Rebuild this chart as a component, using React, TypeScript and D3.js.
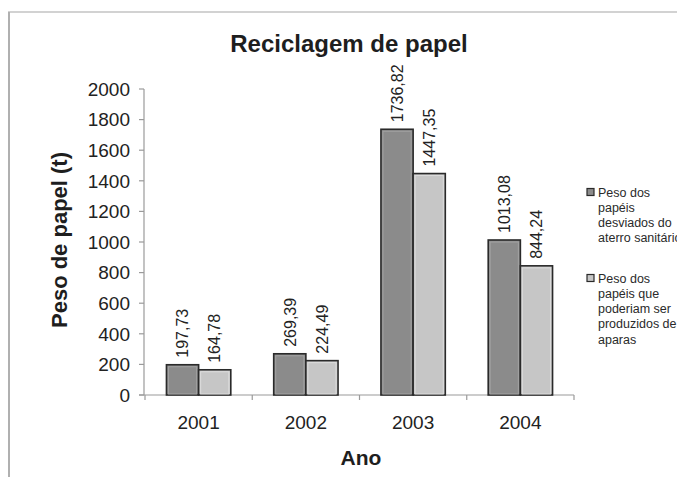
import React from "react";
import * as d3 from "d3";

const years = ["2001", "2002", "2003", "2004"];
const desviados = [197.73, 269.39, 1736.82, 1013.08];
const produzidos = [164.78, 224.49, 1447.35, 844.24];
const yTicks = [0, 200, 400, 600, 800, 1000, 1200, 1400, 1600, 1800, 2000];
const legend1 = ["Peso dos", "papéis", "desviados do", "aterro sanitário"];
const legend2 = ["Peso dos", "papéis que", "poderiam ser", "produzidos de", "aparas"];

const W = 677;
const H = 477;
const FONT = "'Liberation Sans', Arial, sans-serif";

export default function App() {
  const x = d3.scaleBand<string>().domain(years).range([145, 574]).paddingInner(0.4).paddingOuter(0.2);
  const sub = d3.scaleBand<number>().domain([0, 1]).range([0, x.bandwidth()]);
  const y = d3.scaleLinear().domain([0, 2000]).range([395, 89]);
  const series = [
    { vals: desviados, fill: "#8b8b8b", inner: "#a2a2a2" },
    { vals: produzidos, fill: "#c6c6c6", inner: "#dcdcdc" },
  ];
  const fmt = (v: number) => v.toFixed(2).replace(".", ",");
  const step = x.step();
  const boundaries = [0, 1, 2, 3, 4].map((i) => 145 + i * step);

  return (
    <svg width={W} height={H} style={{ position: "absolute", left: 0, top: 0, background: "#fff" }} fontFamily={FONT}>
      <rect x={0} y={0} width={W} height={H} fill="#fff" />
      {/* frame */}
      <line x1={8} y1={12} x2={W} y2={12} stroke="#d2d2d2" strokeWidth={2} />
      <line x1={9} y1={12} x2={9} y2={H} stroke="#b0b0b0" strokeWidth={2} />

      {/* title */}
      <text x={349} y={52} textAnchor="middle" fontSize={24} fontWeight="bold" fill="#1e1e1e">
        Reciclagem de papel
      </text>

      {/* y axis */}
      <line x1={144} y1={y(2000)} x2={144} y2={y(0)} stroke="#9a9a9a" strokeWidth={1.2} />
      {yTicks.map((t) => (
        <g key={t}>
          <line x1={139} x2={144} y1={y(t)} y2={y(t)} stroke="#9a9a9a" strokeWidth={1.2} />
          <text x={130} y={y(t)} dy="0.36em" textAnchor="end" fontSize={19} fill="#222">
            {t}
          </text>
        </g>
      ))}

      {/* x axis */}
      <line x1={139} x2={574} y1={y(0)} y2={y(0)} stroke="#9a9a9a" strokeWidth={1.2} />
      {boundaries.map((b, i) => (
        <line key={i} x1={b} x2={b} y1={y(0)} y2={y(0) + 5} stroke="#9a9a9a" strokeWidth={1.2} />
      ))}
      {years.map((yr) => (
        <text key={yr} x={(x(yr) ?? 0) + x.bandwidth() / 2} y={429} textAnchor="middle" fontSize={19} fill="#222">
          {yr}
        </text>
      ))}

      {/* bars */}
      {series.map((s, si) =>
        years.map((yr, i) => {
          const bx = (x(yr) ?? 0) + (sub(si) ?? 0);
          const bw = sub.bandwidth();
          const top = y(s.vals[i]);
          const h = y(0) - top;
          return (
            <g key={`${si}-${yr}`}>
              <rect x={bx} y={top} width={bw} height={h} fill={s.fill} stroke="#2a2a2a" strokeWidth={1.6} />
              <rect x={bx + 2} y={top + 2} width={bw - 4} height={Math.max(0, h - 3)} fill="none" stroke={s.inner} strokeWidth={1} />
              <text
                transform={`translate(${bx + bw / 2},${top - 7}) rotate(-90)`}
                dy="0.36em"
                textAnchor="start"
                fontSize={16}
                fill="#222"
              >
                {fmt(s.vals[i])}
              </text>
            </g>
          );
        })
      )}

      {/* axis titles */}
      <text transform={`translate(59,240) rotate(-90)`} dy="0.36em" textAnchor="middle" fontSize={22} fontWeight="bold" fill="#1e1e1e">
        Peso de papel (t)
      </text>
      <text x={361} y={465} textAnchor="middle" fontSize={21} fontWeight="bold" fill="#1e1e1e">
        Ano
      </text>

      {/* legend */}
      {[
        { lines: legend1, fill: series[0].fill, y0: 192 },
        { lines: legend2, fill: series[1].fill, y0: 278 },
      ].map((g, gi) => (
        <g key={gi}>
          <rect x={587} y={g.y0 - 3.5} width={7} height={7} fill={g.fill} stroke="#2a2a2a" strokeWidth={1.2} />
          {g.lines.map((ln, li) => (
            <text key={li} x={598} y={g.y0 + li * 15.3} dy="0.36em" fontSize={12.5} fill="#2a2a2a">
              {ln}
            </text>
          ))}
        </g>
      ))}
    </svg>
  );
}
